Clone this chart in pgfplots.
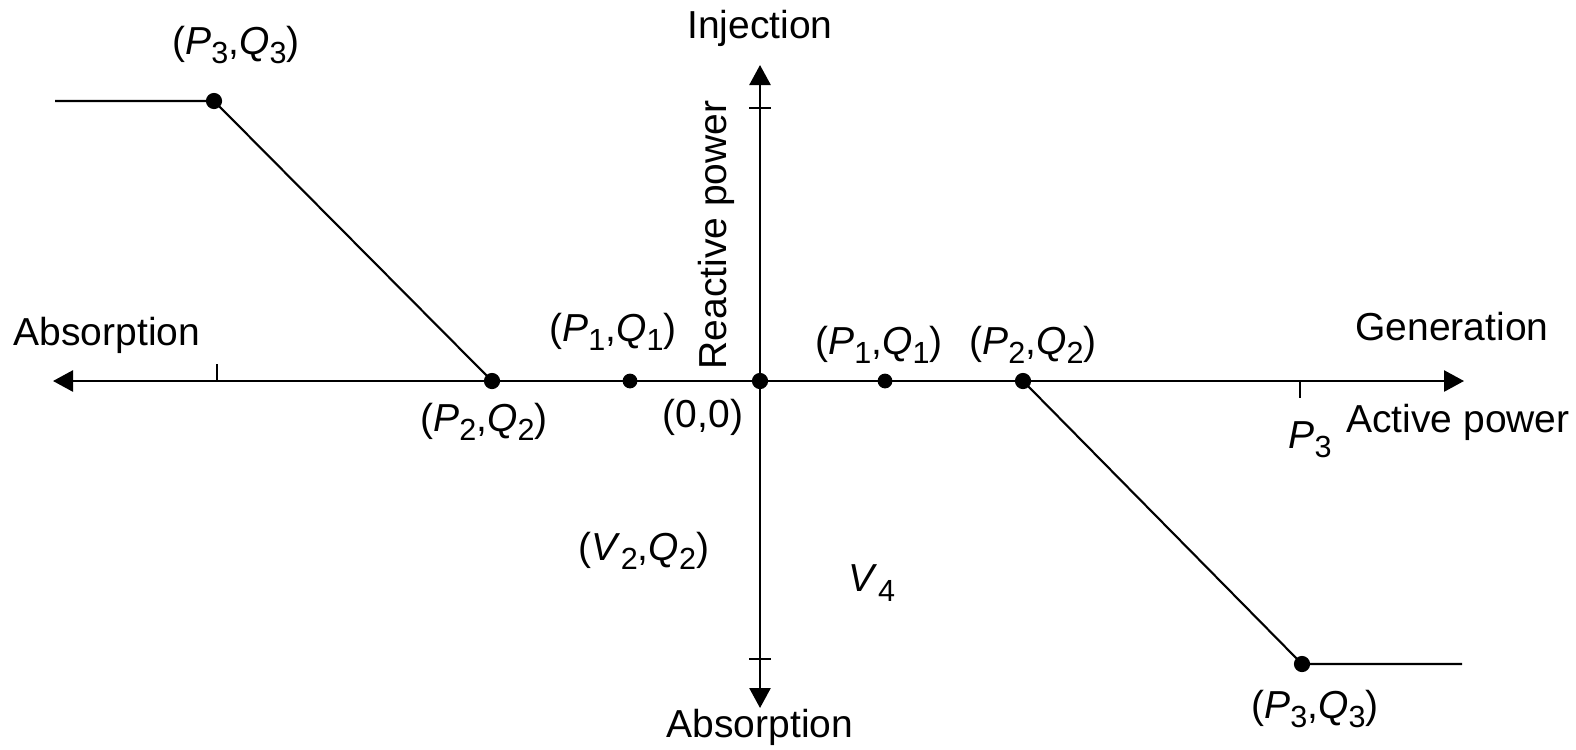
\documentclass[border=0pt]{standalone}
\usepackage{pgfplots}
\pgfplotsset{compat=1.18}
\usepackage{fontspec}
\setmainfont{Liberation Sans}
\usetikzlibrary{arrows.meta}
\newcommand\lab{\fontsize{11.1}{13}\selectfont}
\newcommand\sub[1]{\raisebox{-0.45ex}{\fontsize{8.7}{9}\selectfont #1}}
\newcommand\pq[3]{(\textit{#1}\sub{#3},\textit{Q}\sub{#3})}
\tikzset{lbl/.style={font=\lab, inner sep=0pt}}
\begin{document}
\begin{tikzpicture}
\begin{axis}[
  name=ax,
  scale only axis, width=157.6mm, height=74.9mm,
  xmin=-760, xmax=816, ymin=-368, ymax=381,
  axis lines=none, clip=false,
]
% axes
\draw[line width=0.75pt, {Triangle[length=2mm,width=2.1mm]}-{Triangle[length=2mm,width=2.1mm]}] (axis cs:-707,0) -- (axis cs:704,0);
\draw[line width=0.75pt, {Triangle[length=2mm,width=2.1mm]}-{Triangle[length=2mm,width=2.1mm]}] (axis cs:0,-327) -- (axis cs:0,316);
% ticks
\draw[line width=0.6pt] (axis cs:-543,0) -- (axis cs:-543,17);
\draw[line width=0.6pt] (axis cs:540,0) -- (axis cs:540,-17);
\draw[line width=0.6pt] (axis cs:-11,273) -- (axis cs:11,273);
\draw[line width=0.6pt] (axis cs:-11,-278) -- (axis cs:11,-278);
% characteristic
\addplot[black, line width=0.6pt] coordinates {(-705,280) (-546,280) (-268,0)};
\addplot[black, line width=0.6pt] coordinates {(263,0) (542,-283) (702,-283)};
\addplot[only marks, mark=*, mark size=2.1pt, black] coordinates {(-546,280) (-268,0) (0,0) (263,0) (542,-283)};
\addplot[only marks, mark=*, mark size=1.9pt, black] coordinates {(-130,0) (125,0)};
% labels
\node[lbl] at (axis cs:0,353) {Injection};
\node[lbl, rotate=90] at (axis cs:-44,146) {Reactive power};
\node[lbl] at (axis cs:-653,46) {Absorption};
\node[lbl] at (axis cs:692,54) {Generation};
\node[lbl] at (axis cs:698,-41) {Active power};
\node[lbl] at (axis cs:550,-59) {\textit{P}\sub{3}};
\node[lbl] at (axis cs:-524,336) {\pq{P}{Q}{3}};
\node[lbl] at (axis cs:-276,-41) {\pq{P}{Q}{2}};
\node[lbl] at (axis cs:-147,49) {\pq{P}{Q}{1}};
\node[lbl] at (axis cs:-57,-36) {(0,0)};
\node[lbl] at (axis cs:119,36) {\pq{P}{Q}{1}};
\node[lbl] at (axis cs:273,36) {\pq{P}{Q}{2}};
\node[lbl] at (axis cs:-116,-170) {\pq{V}{Q}{2}};
\node[lbl] at (axis cs:112,-202) {\textit{V}\sub{4}};
\node[lbl] at (axis cs:555,-328) {\pq{P}{Q}{3}};
\node[lbl] at (axis cs:0,-346) {Absorption};
\end{axis}
\pgfresetboundingbox
\path (ax.south west) rectangle (ax.north east);
\end{tikzpicture}
\end{document}
